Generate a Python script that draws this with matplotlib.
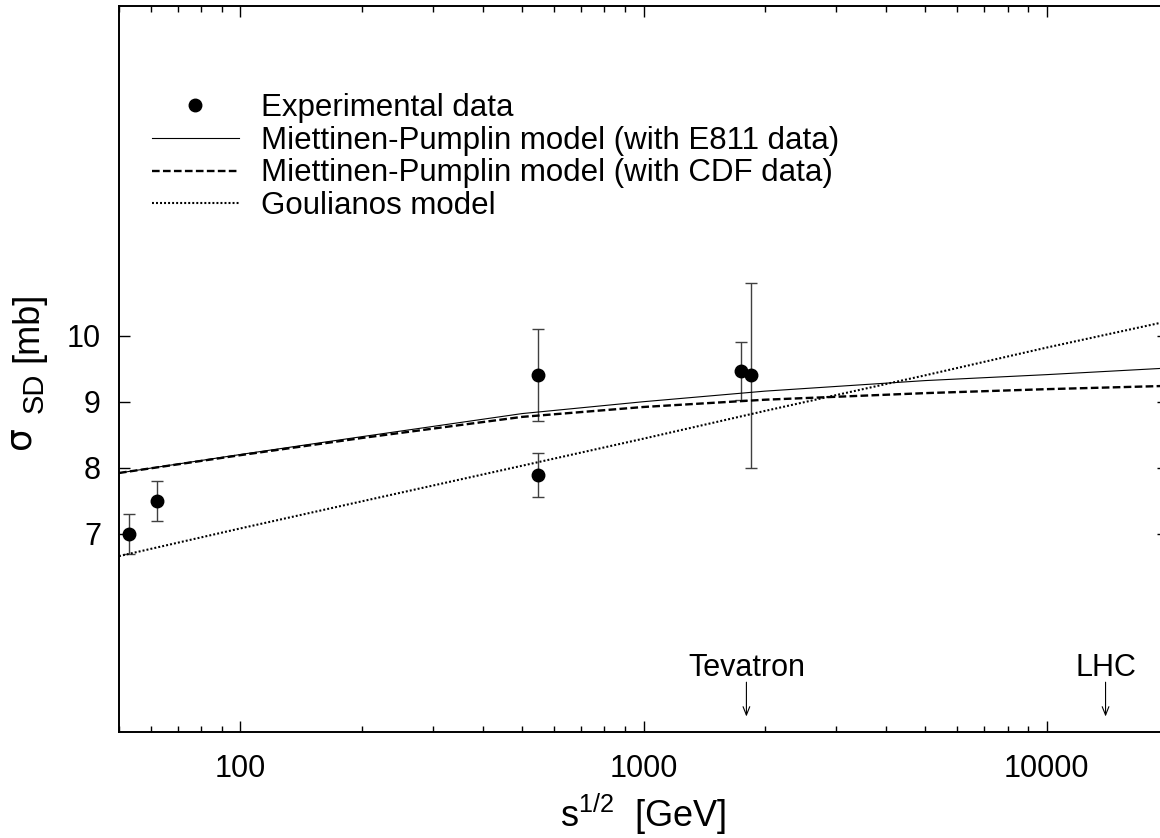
import matplotlib
matplotlib.use("Agg")
import matplotlib.pyplot as plt
from matplotlib import ticker

plt.rcParams["font.family"] = ["Liberation Sans", "DejaVu Sans"]
plt.rcParams["mathtext.fontset"] = "custom"
plt.rcParams["mathtext.rm"] = "Liberation Sans"
plt.rcParams["mathtext.it"] = "Liberation Sans:italic"
plt.rcParams["lines.scale_dashes"] = False

# experimental points (sqrt(s) in GeV, sigma_SD in mb)
exp_energy = [53, 62, 546, 546, 1750, 1850]
exp_sigma = [7.0, 7.5, 7.89, 9.4, 9.46, 9.4]
exp_err = [0.3, 0.3, 0.33, 0.7, 0.44, 1.4]

# model curves
model_energy = [50, 100, 200, 500, 1000, 2000, 5000, 10000, 20000]
mp_e811 = [7.92, 8.20, 8.47, 8.82, 9.00, 9.16, 9.32, 9.41, 9.51]
mp_cdf = [7.92, 8.19, 8.45, 8.77, 8.92, 9.03, 9.13, 9.19, 9.24]
goulianos = [6.66, 7.08, 7.49, 8.03, 8.44, 8.86, 9.40, 9.82, 10.22]

# collider markers
colliders = ["Tevatron", "LHC"]
collider_energy = [1800, 14000]

W, H = 1160, 838
fig = plt.figure(figsize=(W / 100, H / 100), dpi=100)
ax = fig.add_axes([119 / W, (H - 731.7) / H, (1168 - 119) / W, (731.7 - 5.7) / H])

ax.errorbar(exp_energy, exp_sigma, yerr=exp_err, fmt="none", ecolor="#404040",
            elinewidth=1.0, capsize=4, capthick=1.0)
pts, = ax.plot(exp_energy, exp_sigma, "o", color="black", markersize=9,
               label="Experimental data")
l1, = ax.plot(model_energy, mp_e811, "-", color="black", lw=0.8,
              label="Miettinen-Pumplin model (with E811 data)")
l2, = ax.plot(model_energy, mp_cdf, color="black", lw=1.7, dashes=(5.5, 2.4),
              label="Miettinen-Pumplin model (with CDF data)")
l3, = ax.plot(model_energy, goulianos, color="black", lw=1.5, dashes=(1.4, 1.5),
              label="Goulianos model")

for name, e in zip(colliders, collider_energy):
    ax.annotate("", xy=(e, 4.23), xytext=(e, 4.75),
                arrowprops=dict(arrowstyle="->,head_length=0.5,head_width=0.2",
                                lw=0.8, color="black", shrinkA=0, shrinkB=0,
                                mutation_scale=12))
    ax.text(e, 4.97, name, ha="center", va="center", fontsize=22)

ax.set_xscale("log")
ax.set_xlim(50, 20000)
ax.set_ylim(4, 15)
ax.set_xticks([100, 1000, 10000])
ax.xaxis.set_major_formatter(ticker.FuncFormatter(lambda v, p: f"{v:g}"))
ax.xaxis.set_minor_locator(ticker.LogLocator(base=10, subs=range(2, 10)))
ax.xaxis.set_minor_formatter(ticker.NullFormatter())
ax.set_yticks([7, 8, 9, 10])

ax.tick_params(which="both", direction="in", top=True, right=True, labelsize=22)
ax.tick_params(which="major", length=8, width=1.0, pad=13)
ax.tick_params(axis="x", which="major", pad=16)
ax.tick_params(which="minor", length=4, width=1.0)
for s in ax.spines.values():
    s.set_linewidth(1.4)

# x title
fig.text(643.5 / W, (H - 814) / H, r"$\mathregular{s^{1/2}}$  [GeV]",
         fontsize=26, ha="center", va="center")

# y title: sigma, lowered "SD" and unit, each rotated about its baseline start
def ytitle(txt, x_base, y_start, size, family=None):
    fig.text(x_base / W, (H - y_start) / H, txt, fontsize=size, rotation=90,
             rotation_mode="anchor", ha="left", va="baseline", family=family)

ytitle("σ", 30, 449, 26, family=["DejaVu Sans"])
ytitle("SD", 43, 413, 21)
ytitle("[mb]", 37, 362, 26)

ax.legend(handles=[pts, l1, l2, l3], loc="upper left",
          bbox_to_anchor=(0.0312, 0.88), frameon=False, fontsize=22.5,
          borderpad=0, borderaxespad=0, handlelength=2.8, handletextpad=0.7,
          labelspacing=0.09)

fig.savefig("out.png", dpi=100)
